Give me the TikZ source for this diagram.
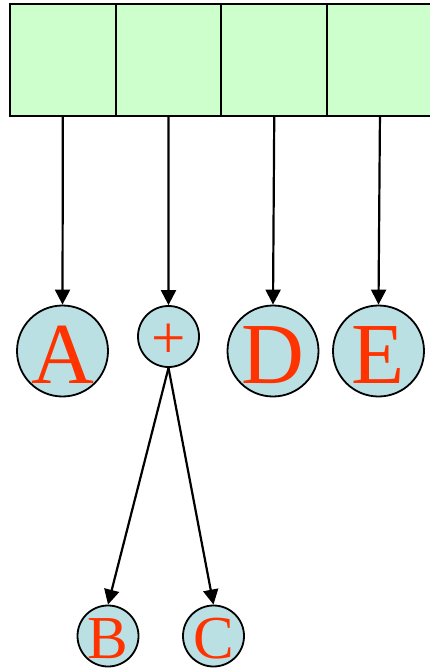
\documentclass[tikz,border=0pt]{standalone}
\usepackage{fontspec}
\setmainfont{Liberation Serif}
\usetikzlibrary{arrows.meta}
\definecolor{cellgreen}{HTML}{CCFFCC}
\definecolor{ballblue}{HTML}{BBE0E3}
\definecolor{letterred}{HTML}{FF3300}
\begin{document}
\begin{tikzpicture}[x=1pt,y=1pt,
  cell/.style={draw=black,line width=2pt,fill=cellgreen,minimum width=105.7pt,minimum height=112pt,inner sep=0pt,outer sep=0pt},
  bigball/.style={circle,draw=black,line width=1.8pt,fill=ballblue,minimum size=91pt,inner sep=-12pt,text=letterred,font=\fontsize{87}{87}\selectfont,text height=64pt,text depth=0pt},
  smallball/.style={circle,draw=black,line width=1.8pt,fill=ballblue,minimum size=61pt,inner sep=-12pt,text=letterred,font=\fontsize{61}{61}\selectfont,text height=45pt,text depth=0pt},
  plussign/.style={text height=44pt,text depth=0pt},
  link/.style={line width=2.2pt,-{Triangle[width=15pt,length=15pt]}}]
\useasboundingbox (0,0) rectangle (430,-668);
\node[cell] (c1) at (62.85,-60) {};
\node[cell] (c2) at (168.55,-60) {};
\node[cell] (c3) at (274.25,-60) {};
\node[cell] (c4) at (379.95,-60) {};
\node[bigball] (A) at (62.5,-351) {A};
\node[smallball,plussign] (plus) at (168.5,-336.5) {+};
\node[bigball] (D) at (273,-351) {D};
\node[bigball] (E) at (378.5,-351) {E};
\node[smallball] (B) at (108,-636) {B};
\node[smallball] (C) at (213.5,-636) {C};
\draw[link] (c1.south) -- (A.north);
\draw[link] (c2.south) -- (plus.north);
\draw[link] (c3.south) -- (D.north);
\draw[link] (c4.south) -- (E.north);
\draw[link] (plus.south) -- (B.north);
\draw[link] (plus.south) -- (C.north);
\end{tikzpicture}
\end{document}
